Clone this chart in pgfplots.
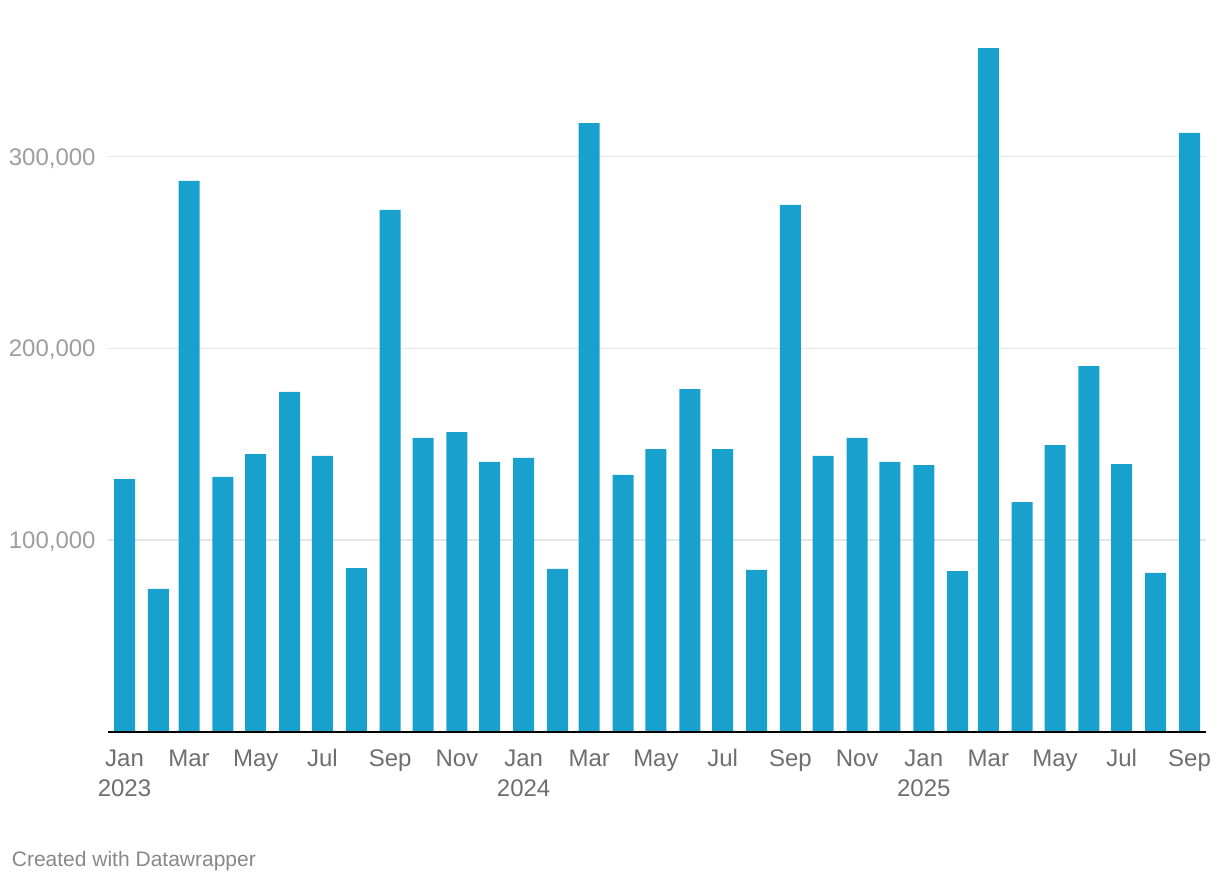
\documentclass[border=0pt]{standalone}
\usepackage{fontspec}
\setmainfont{Liberation Sans}
\usepackage{pgfplots}
\pgfplotsset{compat=1.18}

\definecolor{barblue}{HTML}{18A1CD}
\definecolor{gridgray}{HTML}{E6E6E6}
\definecolor{ylabgray}{HTML}{9E9E9E}
\definecolor{xlabgray}{HTML}{6E6E6E}
\definecolor{creditgray}{HTML}{888888}

% grid behind the bars, baseline in front of them
\pgfplotsset{
  layers/barsfirst/.define layer set={
    axis background,axis grid,pre main,main,axis ticks,axis lines,
    axis tick labels,axis descriptions,axis foreground}{/pgfplots/layers/standard},
}

\begin{document}
\begin{tikzpicture}
\begin{axis}[
  set layers=barsfirst,
  at={(53.75pt,76pt)}, anchor=south west,
  scale only axis,
  width=549pt, height=345.25pt,
  xmin=-15.55, xmax=988.6,
  ymin=0, ymax=360000,
  axis x line=bottom,
  axis y line=left,
  x axis line style={black, line width=1pt, -},
  y axis line style={draw=none},
  major tick length=0pt,
  ymajorgrids,
  grid style={gridgray, line width=0.75pt},
  ytick={100000,200000,300000},
  scaled y ticks=false,
  /pgf/number format/fixed,
  /pgf/number format/1000 sep={,},
  /pgf/number format/assume math mode=true,
  yticklabel style={font=\fontsize{12}{14}\selectfont, text=ylabgray,
    anchor=base east, inner sep=0pt, xshift=-5.75pt, yshift=-4.3pt},
  xtick={0,59,120,181,243,304,365,425,486,547,609,670,731,790,851,912,974},
  xticklabels={Jan\\2023,Mar,May,Jul,Sep,Nov,Jan\\2024,Mar,May,Jul,Sep,Nov,Jan\\2025,Mar,May,Jul,Sep},
  typeset ticklabels with strut,
  xticklabel style={font=\fontsize{12}{15}\selectfont, text=xlabgray,
    align=center, anchor=north, inner sep=0pt, yshift=-6.5pt},
]
% x = days since 1 Jan 2023 (start of each month)
\addplot[ybar, bar width=19.2, fill=barblue, draw=none] coordinates {
  (0,131900) (31,74600) (59,287400) (90,133000) (120,144900) (151,177300)
  (181,143900) (212,85500) (243,272200) (273,153300) (304,156400) (334,140800)
  (365,142900) (396,85000) (425,317500) (456,134000) (486,147500) (517,178800)
  (547,147500) (578,84500) (609,274800) (639,143900) (670,153300) (700,140800)
  (731,139200) (762,83900) (790,356600) (821,119900) (851,149600) (882,190800)
  (912,139700) (943,82900) (974,312300)
};
\end{axis}
\node[anchor=base west, inner sep=0pt, text=creditgray,
  font=\fontsize{10.5}{12}\selectfont] at (5.75pt,8.65pt) {Created with Datawrapper};
\path (0,0) rectangle (610pt,442pt);
\end{tikzpicture}
\end{document}
